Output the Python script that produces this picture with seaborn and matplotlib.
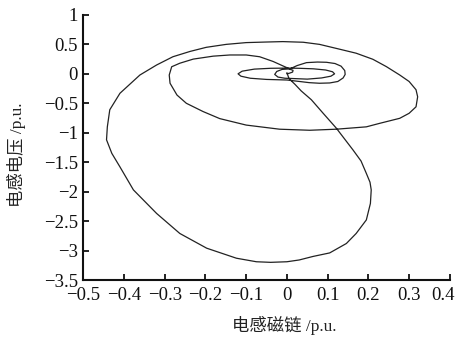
import matplotlib
matplotlib.use("Agg")
import matplotlib.pyplot as plt
import matplotlib.transforms as mtransforms
import seaborn as sns
import pandas as pd

# Trajectory (inductor flux, inductor voltage), in p.u.
flux = [
    0.0, 0.005, 0.02, 0.035, 0.06, 0.089, 0.121, 0.162, 0.182, 0.195, 0.204, 0.207,
    0.205, 0.195, 0.17, 0.146, 0.105, 0.064, 0.03, 0.0, -0.04, -0.075, -0.124,
    -0.197, -0.263, -0.32, -0.377, -0.41, -0.43, -0.443, -0.441, -0.435, -0.41,
    -0.361, -0.32, -0.28, -0.238, -0.198, -0.149, -0.10, -0.05, -0.01, 0.04,
    0.08, 0.13, 0.17, 0.211, 0.244, 0.277, 0.30, 0.317, 0.321, 0.317, 0.30,
    0.277, 0.228, 0.195, 0.121, 0.056, -0.018, -0.10, -0.165, -0.206, -0.247,
    -0.27, -0.287, -0.289, -0.283, -0.263, -0.23, -0.181, -0.14, -0.10, -0.067,
    -0.034, -0.01, 0.007, 0.025, 0.048, 0.075, 0.097, 0.118, 0.133, 0.142,
    0.143, 0.138, 0.125, 0.105, 0.08, 0.055, 0.031, 0.0, -0.05, -0.09, -0.113,
    -0.12, -0.11, -0.08, -0.04, 0.0, 0.03, 0.065, 0.095, 0.112, 0.117, 0.108,
    0.085, 0.05, 0.015, -0.005, -0.022, -0.03, -0.025, -0.012, 0.005, 0.015,
    0.014, 0.006, 0.0,
]
voltage = [
    0.02, -0.08, -0.18, -0.29, -0.44, -0.67, -0.92, -1.29, -1.48, -1.69, -1.84, -1.97,
    -2.2, -2.48, -2.71, -2.88, -3.04, -3.10, -3.16, -3.19, -3.20, -3.19, -3.13,
    -2.96, -2.71, -2.37, -1.97, -1.58, -1.35, -1.12, -0.90, -0.61, -0.33,
    -0.02, 0.15, 0.29, 0.38, 0.45, 0.50, 0.53, 0.54, 0.547, 0.536,
    0.50, 0.417, 0.35, 0.247, 0.123, -0.02, -0.13, -0.27, -0.39, -0.56, -0.67,
    -0.755, -0.84, -0.90, -0.94, -0.958, -0.94, -0.87, -0.76, -0.64, -0.50,
    -0.36, -0.16, -0.02, 0.12, 0.18, 0.25, 0.30, 0.32, 0.32, 0.29,
    0.21, 0.135, 0.083, 0.14, 0.19, 0.2, 0.196, 0.175, 0.13, 0.055,
    -0.01, -0.07, -0.13, -0.155, -0.16, -0.15, -0.13, -0.105, -0.095, -0.075, -0.04,
    0.0, 0.045, 0.08, 0.094, 0.097, 0.094, 0.085, 0.065, 0.035, 0.0, -0.04,
    -0.07, -0.09, -0.08, -0.075, -0.055, -0.01, 0.04, 0.075, 0.083, 0.06,
    0.03, 0.01, 0.0,
]

x_ticks = [-0.5, -0.4, -0.3, -0.2, -0.1, 0, 0.1, 0.2, 0.3, 0.4]
x_ticklabels = ["\u22120.5", "\u22120.4", "\u22120.3", "\u22120.2", "\u22120.1", "0", "0.1", "0.2", "0.3", "0.4"]
y_ticks = [1, 0.5, 0, -0.5, -1, -1.5, -2, -2.5, -3, -3.5]
y_ticklabels = ["1", "0.5", "0", "\u22120.5", "\u22121", "\u22121.5", "\u22122", "\u22122.5", "\u22123", "\u22123.5"]
x_label = "电感磁链 /p.u."
y_label = "电感电压 /p.u."

df = pd.DataFrame({"step": range(len(flux)), "flux": flux, "voltage": voltage})

sns.set_theme(style="ticks")
fam = ["Liberation Serif", "Noto Sans CJK SC"]
plt.rcParams["font.family"] = fam

fig = plt.figure(figsize=(4.59, 3.39), dpi=100)
ax = fig.add_axes([0.1815, 0.174, 0.7985, 0.782])

sns.lineplot(data=df, x="flux", y="voltage", sort=False, estimator=None,
             color="#222222", linewidth=0.9, ax=ax)

ax.set_xlim(-0.5, 0.4)
ax.set_ylim(-3.5, 1)
ax.set_xticks(x_ticks)
ax.set_xticklabels(x_ticklabels)
ax.set_yticks(y_ticks)
ax.set_yticklabels(y_ticklabels)
ax.tick_params(direction="in", length=4, width=1.3, labelsize=13.5,
               colors="#111111")
ax.tick_params(axis="x", pad=5)
ax.tick_params(axis="y", pad=4)
for s in ("top", "right"):
    ax.spines[s].set_visible(False)
for s in ("left", "bottom"):
    ax.spines[s].set_linewidth(1.5)
    ax.spines[s].set_color("#111111")

ax.set_xlabel(x_label, fontsize=12.5, family=fam, color="#222222")
ax.set_ylabel(y_label, fontsize=12.5, family=fam, color="#222222")
ax.xaxis.set_label_coords(0.547, -0.135)
ax.yaxis.set_label_coords(-0.155, 0.472)
ax.grid(False)

# nudge the last x tick label left, as in the reference
last = ax.get_xticklabels()[-1]
last.set_transform(last.get_transform() +
                   mtransforms.ScaledTranslation(-7 / 100, 0, fig.dpi_scale_trans))

fig.savefig("out.png", dpi=100, facecolor="white")
